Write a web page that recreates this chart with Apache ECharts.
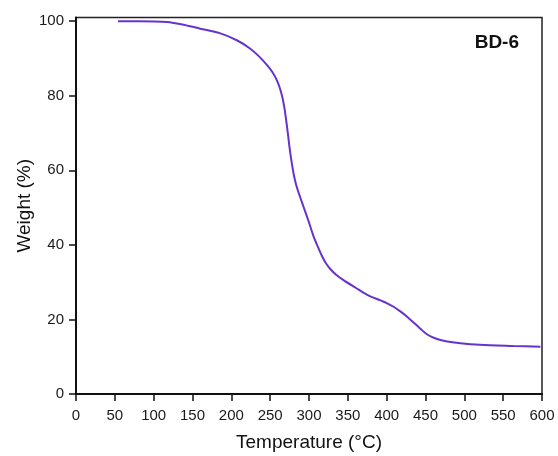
<!DOCTYPE html>
<html>
<head>
<meta charset="utf-8">
<script src="https://cdn.jsdelivr.net/npm/echarts@6/dist/echarts.min.js"></script>
<style>html,body{margin:0;padding:0;background:#fff}#c{width:558px;height:456px}</style>
</head>
<body>
<div id="c"></div>
<script>
const temperature = [54, 80, 117, 140, 160, 185, 207, 224, 236, 246, 253, 259, 264, 268, 272, 276, 280, 283, 287, 293, 300, 306, 312, 317, 322, 328, 335, 344, 360, 375, 392, 400, 409, 418, 426, 435, 443, 450, 458, 467, 478, 495, 520, 563, 598];
const weight = [100, 100, 99.8, 99, 98, 96.8, 94.9, 92.7, 90.5, 88.2, 86.3, 84, 81, 77.2, 71.2, 64.5, 59.3, 56.5, 53.8, 50.2, 46, 42.2, 39.2, 36.9, 35, 33.4, 32, 30.6, 28.5, 26.6, 25.1, 24.4, 23.4, 22.1, 20.8, 19.1, 17.6, 16.3, 15.3, 14.6, 14.1, 13.6, 13.2, 12.9, 12.7];
const xTicks = [0, 50, 100, 150, 200, 250, 300, 350, 400, 450, 500, 550, 600];
const yTicks = [0, 20, 40, 60, 80, 100];
const sampleLabel = 'BD-6';

const font = 'Liberation Sans, Arial, sans-serif';
const chart = echarts.init(document.getElementById('c'), null, {renderer: 'canvas'});
chart.setOption({
  animation: false,
  backgroundColor: '#fff',
  title: {
    text: sampleLabel, right: 34, top: 28,
    textStyle: {fontFamily: font, fontWeight: 'bold', fontSize: 19, color: '#111'}
  },
  grid: {left: 76, right: 16, top: 17.5, bottom: 62, show: true, borderColor: '#222', borderWidth: 1.5, outerBoundsMode: 'none', containLabel: false},
  xAxis: {
    type: 'value', min: 0, max: 600, interval: 50,
    name: 'Temperature (°C)', nameLocation: 'middle', nameGap: 39, nameMoveOverlap: false,
    nameTextStyle: {fontFamily: font, fontSize: 19, color: '#111'},
    axisLine: {show: true, lineStyle: {color: '#111', width: 2}},
    axisTick: {show: true, length: 7, lineStyle: {color: '#111', width: 1.5}, customValues: xTicks},
    axisLabel: {fontFamily: font, fontSize: 15, color: '#1a1a1a', margin: 14, customValues: xTicks},
    splitLine: {show: false}
  },
  yAxis: {
    type: 'value', min: 0, max: 101,
    name: 'Weight (%)', nameLocation: 'middle', nameGap: 42, nameMoveOverlap: false,
    nameTextStyle: {fontFamily: font, fontSize: 19, color: '#111'},
    axisLine: {show: true, lineStyle: {color: '#111', width: 2}},
    axisTick: {show: true, length: 7, lineStyle: {color: '#111', width: 1.5}, customValues: yTicks},
    axisLabel: {fontFamily: font, fontSize: 15, color: '#1a1a1a', margin: 12, customValues: yTicks},
    splitLine: {show: false}
  },
  series: [{
    type: 'line',
    data: temperature.map((t, i) => [t, weight[i]]),
    showSymbol: false,
    smooth: 0.3,
    lineStyle: {color: '#6633cc', width: 2},
    itemStyle: {color: '#6633cc'}
  }]
});
</script>
</body>
</html>
